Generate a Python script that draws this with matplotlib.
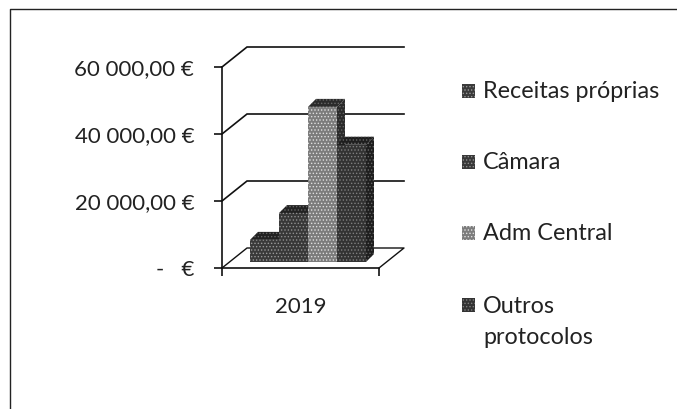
import matplotlib.pyplot as plt
from matplotlib.patches import Polygon, Rectangle

plt.rcParams['font.family'] = ['Lato', 'DejaVu Sans']
plt.rcParams['hatch.linewidth'] = 0.6

series = ['Receitas próprias', 'Câmara', 'Adm Central', 'Outros\nprotocolos']
values = [6600, 14600, 46300, 35000]
category = '2019'
y_ticks = [0, 20000, 40000, 60000]
y_labels = ['-   €', '20 000,00 €', '40 000,00 €', '60 000,00 €']

face_colors = ['#3a3a3a', '#383838', '#7c7c7c', '#333333']
side_colors = ['#222222', '#222222', '#2a2a2a', '#1e1e1e']
dot_colors = ['#9a9a9a', '#909090', '#e0e0e0', '#808080']

W, H = 677, 409
fig = plt.figure(figsize=(W / 100, H / 100), dpi=100)

# axes box = front face of the 3d chart, in pixels
ax = fig.add_axes([222 / W, 1 - 268 / H, 157 / W, 201 / H])
ax.set_xlim(0, 1)
ax.set_ylim(0, 60000)
ax.patch.set_alpha(0)

# depth of the fake 3d box, data units
depth_x = 25 / 157
depth_y = 20 / 201 * 60000

ink = '#111111'

# gridlines run back from the axis then right along the wall
for t in y_ticks[1:]:
    ax.plot([0, depth_x, 1 + depth_x], [t, t + depth_y, t + depth_y], color=ink, lw=1.2,
            clip_on=False, solid_joinstyle='miter')

# floor
ax.plot([0, depth_x, 1 + depth_x, 1], [0, depth_y, depth_y, 0], color=ink, lw=1.0, clip_on=False)

# bars, left to right
bar_w = 29 / 157
bar_start = 28 / 157
bar_base = 6 / 201 * 60000
bar_dx = 8 / 157
bar_dy = 8 / 201 * 60000

for i, v in enumerate(values):
    x0 = bar_start + i * bar_w
    x1 = x0 + bar_w
    top = bar_base + v
    # side
    ax.add_patch(Polygon([(x1, bar_base), (x1 + bar_dx, bar_base + bar_dy),
                          (x1 + bar_dx, top + bar_dy), (x1, top)],
                         facecolor=side_colors[i], edgecolor='#666666', lw=0,
                         hatch='.....', clip_on=False, zorder=3 + i))
    # top
    ax.add_patch(Polygon([(x0, top), (x0 + bar_dx, top + bar_dy),
                          (x1 + bar_dx, top + bar_dy), (x1, top)],
                         facecolor=side_colors[i], edgecolor='#666666', lw=0,
                         hatch='.....', clip_on=False, zorder=3 + i))
    # front
    ax.add_patch(Rectangle((x0, bar_base), bar_w, v, facecolor=face_colors[i],
                           edgecolor=dot_colors[i], lw=0, hatch='.....', clip_on=False, zorder=3 + i))

# axes and ticks
for s in ['top', 'right']:
    ax.spines[s].set_visible(False)
ax.spines['left'].set_linewidth(1.2)
ax.spines['bottom'].set_linewidth(1.2)
ax.spines['left'].set_color(ink)
ax.spines['bottom'].set_color(ink)
ax.set_yticks(y_ticks)
ax.set_yticklabels(y_labels, fontsize=16, color='#222222')
ax.tick_params(axis='y', length=6, width=1.2, color=ink, pad=14)
ax.set_xticks([0, 1])
ax.set_xticklabels(['', ''])
ax.tick_params(axis='x', direction='out', length=6, width=1.2, color=ink)
ax.text(0.5, -0.224, category, transform=ax.transAxes, ha='center', va='baseline', fontsize=16, color='#222222')

# legend placed by hand, uneven gaps in the original
swatch_y = [91, 162, 233, 305]
# baseline of the last line of each label
text_y = [98, 169, 240, 344]
for i, name in enumerate(series):
    y = swatch_y[i]
    fig.add_artist(Rectangle((462 / W, 1 - (y + 7) / H), 13 / W, 14 / H, transform=fig.transFigure,
                             facecolor=face_colors[i], edgecolor=dot_colors[i], lw=0, hatch='.....'))
    fig.text(483 / W, 1 - text_y[i] / H, name, ha='left', va='baseline', fontsize=16.8, color='#222222',
             linespacing=1.6)

# scanned frame, left and top only
fig.add_artist(plt.Line2D([10 / W, 10 / W, 1], [0, 1 - 9 / H, 1 - 9 / H], color='#222222', lw=1.0))

fig.savefig('out.png', dpi=100)
plt.close()
